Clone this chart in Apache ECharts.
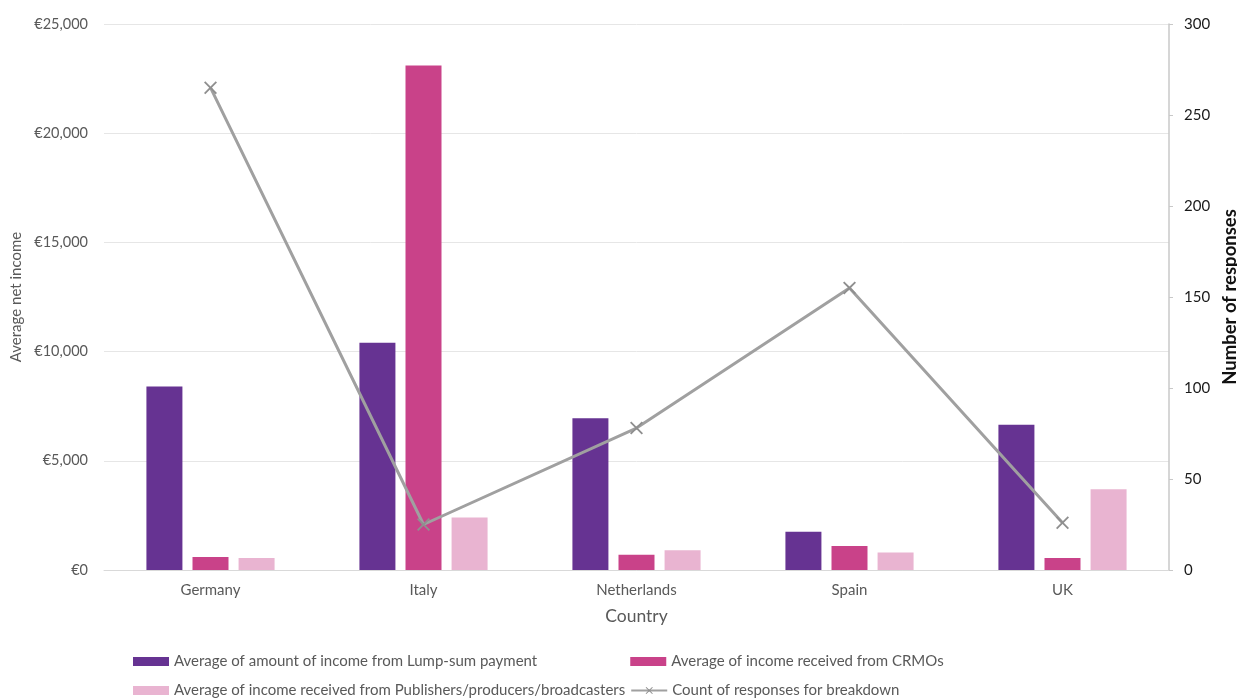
<!DOCTYPE html>
<html><head><meta charset="utf-8">
<script src="https://cdn.jsdelivr.net/npm/echarts@6/dist/echarts.min.js"></script>
<style>html,body{margin:0;padding:0;background:#fff}#c{width:1237px;height:699px}</style>
</head><body><div id="c"></div>
<script>
const categories = ['Germany', 'Italy', 'Netherlands', 'Spain', 'UK'];
const lumpSum = [8400, 10400, 6950, 1750, 6650];
const crmos = [600, 23100, 700, 1100, 550];
const publishers = [550, 2400, 900, 800, 3700];
const responses = [265, 25, 78, 155, 26];
const seriesNames = [
  'Average of amount of income from Lump-sum payment',
  'Average of income received from CRMOs',
  'Average of income received from Publishers/producers/broadcasters',
  'Count of responses for breakdown'
];
const leftTicks = { min: 0, max: 25000, interval: 5000 };
const rightTicks = { min: 0, max: 300, interval: 50 };

const FONT = 'Lato, "Open Sans", sans-serif';
const xMark = 'path://M1,0L5,4L9,0L10,1L6,5L10,9L9,10L5,6L1,10L0,9L4,5L0,1Z';
const chart = echarts.init(document.getElementById('c'), null, { renderer: 'canvas' });
const legendText = { fontFamily: FONT, fontSize: 15, color: '#595959' };
chart.setOption({
  animation: false,
  grid: { left: 104, right: 68, top: 24, bottom: 129, outerBoundsMode: 'none', containLabel: false },
  legend: [
    { data: [seriesNames[0], seriesNames[1]], left: 128, top: 649, itemWidth: 36, itemHeight: 9, itemGap: 93,
      textStyle: legendText, icon: 'rect' },
    { data: [{ name: seriesNames[2], icon: 'rect' }, { name: seriesNames[3] }], left: 128, top: 678, itemWidth: 36, itemHeight: 9, itemGap: 5,
      textStyle: legendText }
  ],
  xAxis: {
    type: 'category', data: categories,
    name: 'Country', nameLocation: 'middle', nameGap: 37,
    nameTextStyle: { fontFamily: FONT, fontSize: 17.5, color: '#595959' },
    axisLine: { lineStyle: { color: '#d9d9d9', width: 1 } },
    axisTick: { show: false },
    axisLabel: { fontFamily: FONT, fontSize: 15, color: '#595959', margin: 13 }
  },
  yAxis: [
    { type: 'value', min: leftTicks.min, max: leftTicks.max, interval: leftTicks.interval,
      name: 'Average net income', nameLocation: 'middle', nameGap: 78, nameRotate: 90,
      nameTextStyle: { fontFamily: FONT, fontSize: 15, color: '#595959' },
      axisLabel: { fontFamily: FONT, fontSize: 14.5, color: '#595959', margin: 16,
        formatter: v => '€' + v.toLocaleString('en-US') },
      axisLine: { show: false }, axisTick: { show: false },
      splitLine: { lineStyle: { color: '#e6e6e6', width: 1 } } },
    { type: 'value', min: rightTicks.min, max: rightTicks.max, interval: rightTicks.interval,
      name: 'Number of responses', nameLocation: 'middle', nameGap: 33, nameRotate: 90,
      nameTextStyle: { fontFamily: FONT, fontSize: 18.5, color: '#111', fontWeight: 'bold' },
      axisLabel: { fontFamily: FONT, fontSize: 15, color: '#1a1a1a', margin: 15 },
      axisLine: { show: true, lineStyle: { color: '#c8c8c8', width: 1.5 } },
      axisTick: { show: true, length: 4, lineStyle: { color: '#c8c8c8' } },
      splitLine: { show: false } }
  ],
  series: [
    { name: seriesNames[0], type: 'bar', data: lumpSum, barWidth: 36, barGap: '28%', itemStyle: { color: '#663392' } },
    { name: seriesNames[1], type: 'bar', data: crmos, barWidth: 36, barGap: '28%', itemStyle: { color: '#c94289' } },
    { name: seriesNames[2], type: 'bar', data: publishers, barWidth: 36, barGap: '28%', itemStyle: { color: '#e9b4d1' } },
    { name: seriesNames[3], type: 'line', yAxisIndex: 1, data: responses, symbol: xMark, symbolSize: 13,
      lineStyle: { color: '#a0a0a0', width: 3 }, itemStyle: { color: '#8f8f8f' } }
  ]
});
</script></body></html>
